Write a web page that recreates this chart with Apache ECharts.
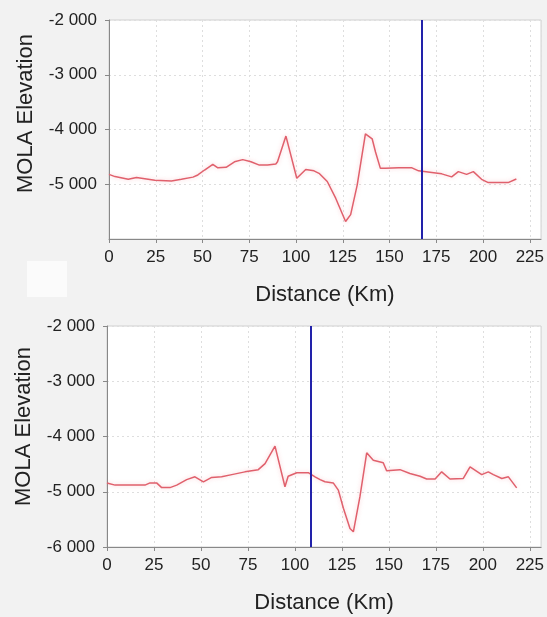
<!DOCTYPE html>
<html>
<head>
<meta charset="utf-8">
<script src="https://cdn.jsdelivr.net/npm/echarts@6/dist/echarts.min.js"></script>
<style>
  html, body { margin: 0; padding: 0; background: #f2f2f2; }
  #chart { width: 547px; height: 617px; }
</style>
</head>
<body>
<div id="chart"></div>
<script>
// top profile
const topKm = [0, 3.2, 10.3, 14.7, 24.5, 33.4, 38.7, 44.9, 47.5, 51.1, 55.5, 58.2, 62.6, 67.1, 71.5, 75.9, 80.4, 84.8, 89.2, 90.1, 94.6, 100.4, 105.2, 109.6, 112.3, 116.7, 121.2, 126.5, 129.2, 132.7, 137.1, 140.7, 142.5, 145.1, 147.8, 154.9, 162, 165.5, 172.6, 177.9, 183.2, 186.8, 191.2, 194.8, 199.2, 202.8, 213.4, 217.8]
const topElev = [-4820, -4860, -4910, -4875, -4925, -4940, -4910, -4870, -4830, -4740, -4635, -4700, -4690, -4590, -4550, -4590, -4650, -4650, -4630, -4590, -4120, -4890, -4730, -4755, -4800, -4950, -5255, -5680, -5555, -5015, -4080, -4170, -4410, -4710, -4710, -4700, -4700, -4755, -4785, -4810, -4865, -4770, -4820, -4770, -4910, -4970, -4970, -4905]
const topCursor = 167.3

// bottom profile
const botKm = [0, 4.3, 20.2, 22.9, 26.4, 29.1, 33.5, 37.1, 42.4, 46.8, 51.3, 55.7, 61, 66.4, 73.4, 80.5, 84.1, 89.4, 94.7, 96.4, 101, 107.1, 110.7, 113.4, 116, 120.4, 123.1, 125.8, 129.3, 131.1, 134.6, 138.2, 141.7, 147, 148.8, 155.9, 161.2, 166.6, 170.1, 174.6, 178.1, 182.5, 189.6, 193.2, 199.4, 202.9, 205.6, 210.1, 213.6, 218]
const botElev = [-4840, -4880, -4880, -4840, -4840, -4925, -4925, -4880, -4780, -4730, -4820, -4740, -4730, -4690, -4640, -4600, -4490, -4175, -4910, -4720, -4655, -4655, -4730, -4780, -4820, -4840, -4970, -5300, -5665, -5725, -5090, -4295, -4430, -4475, -4620, -4600, -4670, -4720, -4770, -4770, -4640, -4770, -4760, -4550, -4690, -4640, -4690, -4760, -4730, -4930]
const botCursor = 108.6

const fmt = v => String(v).replace(/\B(?=(\d{3})+(?!\d))/g, ' ')

const gridLine = { show: true, lineStyle: { color: '#dedede', type: [2, 3] } }

function xAxisOf(i) {
  return {
    gridIndex: i,
    type: 'value',
    min: 0,
    max: 231,
    interval: 25,
    name: 'Distance (Km)',
    nameLocation: 'middle',
    nameGap: 45,
    nameTextStyle: { fontSize: 22, color: '#222', fontFamily: 'Liberation Sans' },
    axisLine: { onZero: false, lineStyle: { color: '#888' } },
    axisTick: { length: 4, lineStyle: { color: '#888' } },
    axisLabel: { fontSize: 17, color: '#222', margin: 10, showMaxLabel: false, fontFamily: 'Liberation Sans' },
    splitLine: gridLine
  }
}

function yAxisOf(i, pad, showMin) {
  return {
    gridIndex: i,
    type: 'value',
    min: -6000,
    max: -2000,
    interval: 1000,
    name: 'MOLA Elevation',
    nameLocation: 'middle',
    nameGap: 72,
    nameTextStyle: { fontSize: 22, color: '#222', fontFamily: 'Liberation Sans', padding: [0, 0, 0, pad] },
    axisLine: { show: true, lineStyle: { color: '#888' } },
    axisTick: { show: true, length: 4, lineStyle: { color: '#888' } },
    axisLabel: { fontSize: 17, color: '#222', margin: 12, showMinLabel: showMin, formatter: fmt, fontFamily: 'Liberation Sans' },
    splitLine: gridLine
  }
}

function profile(i, km, elev, cursor) {
  return {
    type: 'line',
    xAxisIndex: i,
    yAxisIndex: i,
    symbol: 'none',
    data: km.map((k, j) => [k, elev[j]]),
    lineStyle: { color: '#e0606c', width: 1.5, shadowColor: 'rgba(240,130,140,0.4)', shadowBlur: 4 },
    markLine: {
      silent: true,
      symbol: 'none',
      label: { show: false },
      lineStyle: { color: '#2222aa', width: 2, type: 'solid' },
      data: [{ xAxis: cursor }]
    }
  }
}

const chart = echarts.init(document.getElementById('chart'))
chart.setOption({
  backgroundColor: '#f2f2f2',
  animation: false,
  grid: [
    { left: 109, right: 5, top: 20, height: 219, show: true, backgroundColor: '#fff', borderColor: '#d0d0d0' },
    { left: 107, right: 5, top: 326, height: 221, show: true, backgroundColor: '#fff', borderColor: '#d0d0d0' }
  ],
  xAxis: [xAxisOf(0), xAxisOf(1)],
  yAxis: [yAxisOf(0, 32, false), yAxisOf(1, 20, true)],
  series: [
    profile(0, topKm, topElev, topCursor),
    profile(1, botKm, botElev, botCursor)
  ],
  graphic: [
    { type: 'rect', left: 27, top: 261, shape: { width: 40, height: 36 }, style: { fill: '#fbfbfb' } }
  ]
})
</script>
</body>
</html>
